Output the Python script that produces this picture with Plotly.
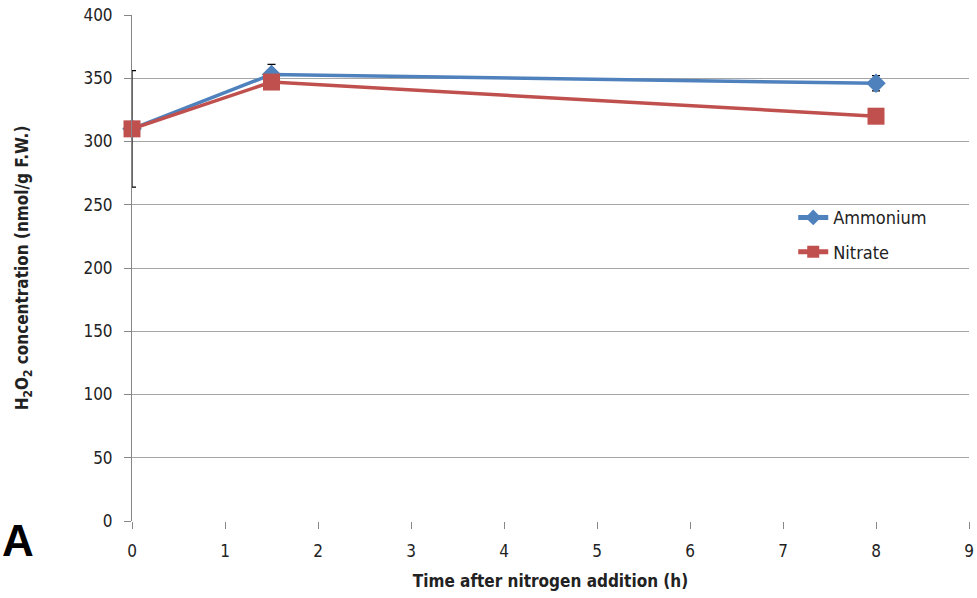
import plotly.graph_objects as go

time_h = [0, 1.5, 8]
ammonium = [310, 353, 346]
ammonium_err = [46, 8, 6]
nitrate = [310, 347, 320]
y_ticks = [0, 50, 100, 150, 200, 250, 300, 350, 400]
x_ticks = [0, 1, 2, 3, 4, 5, 6, 7, 8, 9]

FONT = "DejaVu Sans Condensed, Liberation Sans Narrow, Arial Narrow, sans-serif"
tick_font = dict(family=FONT, size=17, color="#222")

fig = go.Figure()
fig.add_trace(go.Scatter(
    x=time_h, y=ammonium, name="Ammonium", mode="lines+markers", legendgroup="a",
    line=dict(color="#4F81BD", width=3.5),
    marker=dict(symbol="diamond", size=15, color="#4F81BD"),
    error_y=dict(type="data", array=ammonium_err, color="black", thickness=1.2, width=4),
    cliponaxis=False,
))
fig.add_trace(go.Scatter(
    x=time_h, y=nitrate, name="Nitrate", mode="lines+markers", legendgroup="n",
    line=dict(color="#C0504D", width=3.5),
    marker=dict(symbol="square", size=17, color="#C0504D"),
    cliponaxis=False,
))

fig.update_layout(
    width=977, height=598,
    margin=dict(l=132, r=8, t=15, b=77),
    paper_bgcolor="white", plot_bgcolor="white",
    legend=dict(x=0.79, y=0.636, xanchor="left", yanchor="top",
                font=dict(family=FONT, size=18, color="#222"),
                bgcolor="rgba(0,0,0,0)", tracegroupgap=8, itemsizing="constant"),
    xaxis=dict(range=[0, 9], tickvals=x_ticks, showgrid=False, zeroline=False,
               automargin=False,
               ticks="outside", ticklen=7, tickcolor="#888", showline=False,
               tickfont=tick_font, ticklabelstandoff=8,
               title=dict(text="<b>Time after nitrogen addition (h)</b>",
                          font=dict(family=FONT, size=17, color="#222"),
                          standoff=14)),
    yaxis=dict(range=[0, 400], tickvals=y_ticks, showgrid=True, gridcolor="#A6A6A6", gridwidth=1,
               zeroline=False, showline=True, linecolor="#868686", linewidth=1,
               automargin=False,
               ticks="outside", ticklen=7, tickcolor="#888",
               tickfont=tick_font, ticklabelstandoff=8,
               title=dict(text="<b>H<sub>2</sub>O<sub>2</sub> concentration (nmol/g F.W.)</b>",
                          font=dict(family=FONT, size=17, color="#222"),
                          standoff=50)),
    showlegend=True,
)
fig.add_annotation(text="<b>A</b>", xref="paper", yref="paper", x=-0.158, y=0.014,
                   xanchor="left", yanchor="top", showarrow=False,
                   font=dict(family="Liberation Sans, Arial, sans-serif", size=44, color="black"))

fig.write_html("out.html", config={"displayModeBar": False},
               post_script="document.body.style.margin='0';document.body.style.overflow='hidden';")
